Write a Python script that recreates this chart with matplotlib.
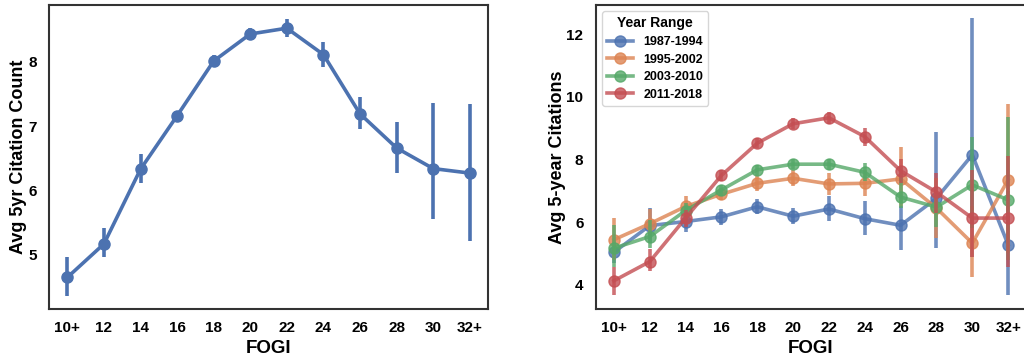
import matplotlib
matplotlib.use("Agg")
import matplotlib.pyplot as plt
import numpy as np

plt.rcParams['font.family'] = ['Liberation Sans', 'DejaVu Sans']
plt.rcParams['font.weight'] = 'bold'
plt.rcParams['axes.labelweight'] = 'bold'

categories = ["10+", "12", "14", "16", "18", "20", "22", "24", "26", "28", "30", "32+"]

# Left panel: overall average 5-year citation count
overall_mean = [4.65, 5.17, 6.33, 7.16, 8.01, 8.43, 8.52, 8.11, 7.19, 6.66, 6.34, 6.27]
overall_lo = [4.36, 4.96, 6.11, 7.08, 7.91, 8.33, 8.38, 7.91, 6.95, 6.27, 5.56, 5.21]
overall_hi = [4.96, 5.41, 6.57, 7.24, 8.11, 8.53, 8.67, 8.31, 7.45, 7.06, 7.36, 7.34]

# Right panel: by year range
year_ranges = ["1987-1994", "1995-2002", "2003-2010", "2011-2018"]
mean_8794 = [5.04, 5.89, 6.02, 6.17, 6.49, 6.19, 6.42, 6.11, 5.90, 6.76, 8.15, 5.28]
lo_8794 = [4.70, 5.35, 5.67, 5.91, 6.25, 5.94, 6.05, 5.59, 5.12, 5.17, 4.90, 3.66]
hi_8794 = [5.40, 6.45, 6.29, 6.41, 6.73, 6.44, 6.82, 6.66, 6.50, 8.87, 12.50, 7.00]

mean_9502 = [5.44, 5.95, 6.50, 6.89, 7.24, 7.40, 7.22, 7.24, 7.38, 6.45, 5.33, 7.35]
lo_9502 = [4.80, 5.49, 6.18, 6.70, 6.98, 7.14, 6.87, 6.82, 6.50, 5.49, 4.24, 5.00]
hi_9502 = [6.13, 6.42, 6.82, 7.08, 7.50, 7.67, 7.56, 7.66, 8.39, 7.40, 6.50, 9.77]

mean_0310 = [5.17, 5.54, 6.37, 7.03, 7.67, 7.85, 7.85, 7.59, 6.80, 6.48, 7.19, 6.71]
lo_0310 = [4.58, 5.17, 6.13, 6.82, 7.51, 7.69, 7.67, 7.30, 6.45, 5.86, 5.80, 4.80]
hi_0310 = [5.91, 6.07, 6.62, 7.19, 7.83, 8.01, 8.01, 7.88, 7.56, 6.87, 8.73, 9.37]

mean_1118 = [4.13, 4.74, 6.13, 7.49, 8.52, 9.14, 9.33, 8.73, 7.64, 6.96, 6.13, 6.13]
lo_1118 = [3.66, 4.43, 5.86, 7.30, 8.36, 8.97, 9.14, 8.44, 7.24, 6.29, 4.90, 4.58]
hi_1118 = [4.58, 5.14, 6.39, 7.67, 8.68, 9.32, 9.53, 9.02, 8.01, 7.58, 7.67, 8.11]

colors = ["#4C72B0", "#DD8452", "#55A868", "#C44E52"]

fig = plt.figure(figsize=(10.24, 3.58), dpi=100)
ax1 = fig.add_axes([0.0479, 0.137, 0.4287, 0.849])
ax2 = fig.add_axes([0.582, 0.137, 0.420, 0.849])

x = np.arange(len(categories))

def style(ax):
    for s in ax.spines.values():
        s.set_color("#333333")
        s.set_linewidth(1.5)
    ax.tick_params(axis='both', labelsize=11, length=0)
    ax.tick_params(axis='x', pad=9)
    ax.tick_params(axis='y', pad=9)
    for lab in ax.get_xticklabels() + ax.get_yticklabels():
        lab.set_fontweight('bold')

# Left
ax1.vlines(x, overall_lo, overall_hi, color=colors[0], linewidth=2.6)
ax1.plot(x, overall_mean, color=colors[0], linewidth=2.6, marker='o', markersize=8)
ax1.set_xlim(-0.5, len(categories) - 0.5)
ax1.set_ylim(4.16, 8.88)
ax1.set_yticks([5, 6, 7, 8])
ax1.set_xticks(x)
ax1.set_xticklabels(categories)
ax1.set_xlabel("FOGI", fontsize=13.5, fontweight='bold', labelpad=3)
ax1.set_ylabel("Avg 5yr Citation Count", fontsize=13, fontweight='bold', labelpad=0.5)
style(ax1)

# Right
series = [(mean_8794, lo_8794, hi_8794), (mean_9502, lo_9502, hi_9502),
          (mean_0310, lo_0310, hi_0310), (mean_1118, lo_1118, hi_1118)]
for (m, lo, hi), c, name in zip(series, colors, year_ranges):
    ax2.vlines(x, lo, hi, color=c, linewidth=2.6, alpha=0.8)
    ax2.plot(x, m, color=c, linewidth=2.6, marker='o', markersize=8, alpha=0.8, label=name)
ax2.set_xlim(-0.5, len(categories) - 0.5)
ax2.set_ylim(3.23, 12.93)
ax2.set_yticks([4, 6, 8, 10, 12])
ax2.set_xticks(x)
ax2.set_xticklabels(categories)
ax2.set_xlabel("FOGI", fontsize=13.5, fontweight='bold', labelpad=3)
ax2.set_ylabel("Avg 5-year Citations", fontsize=13, fontweight='bold', labelpad=0.5)
leg = ax2.legend(title="Year Range", loc='upper left', fontsize=9,
                 title_fontproperties={'weight': 'bold', 'size': 10},
                 handlelength=2.1, borderaxespad=0.5, labelspacing=0.45)
for t in leg.get_texts():
    t.set_fontweight('bold')
leg.get_frame().set_edgecolor('#cccccc')
style(ax2)

fig.savefig("out.png", dpi=100)
